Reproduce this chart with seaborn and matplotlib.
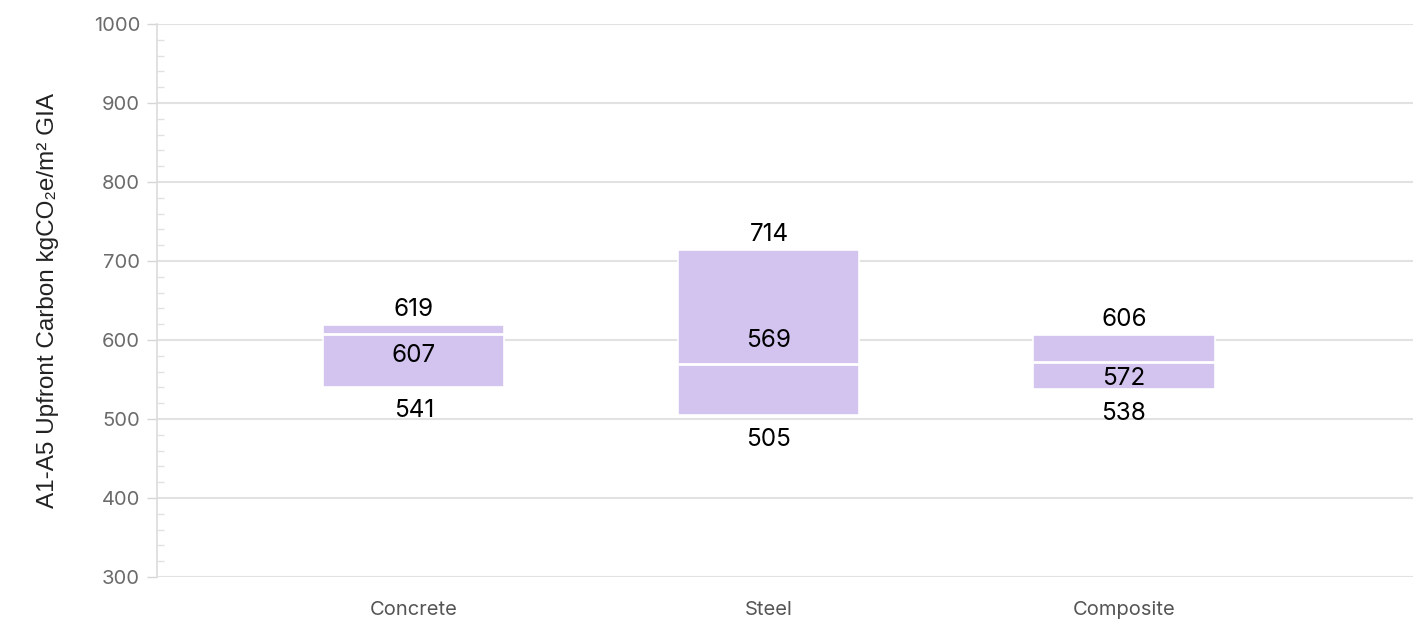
import seaborn as sns
import matplotlib.pyplot as plt
import pandas as pd
from matplotlib.ticker import MultipleLocator

# Valores
sistemas = ['Concrete', 'Steel', 'Composite']
minimos = [541, 505, 538]
medianas = [607, 569, 572]
maximos = [619, 714, 606]

df = pd.DataFrame({'sistema': sistemas, 'min': minimos, 'med': medianas, 'max': maximos})
df['rango'] = df['max'] - df['min']

sns.set_style('white')
plt.rcParams['font.family'] = ['Inter', 'DejaVu Sans']

lila = '#d2c4ee'
fig = plt.figure(figsize=(14.13, 6.21), dpi=100)
ax = fig.add_axes([0.111, 0.071, 0.889, 0.8905])

ancho = 0.51
sns.barplot(x='sistema', y='rango', data=df, bottom=df['min'].to_numpy(), color=lila,
            width=ancho, edgecolor='white', linewidth=1.2, saturation=1, ax=ax, zorder=3)

# linea de la mediana
for i, m in enumerate(df['med']):
    ax.hlines(m, i - ancho / 2, i + ancho / 2, color='white', lw=2, zorder=4)

# etiquetas (desplazamiento en puntos para que no se encimen)
desp_med = [-15.5, 17, -11.5]
for i, r in df.iterrows():
    ax.annotate(str(r['max']), (i, r['max']), xytext=(0, 11), textcoords='offset points',
                ha='center', va='center', fontsize=17.5, color='black', zorder=5)
    ax.annotate(str(r['med']), (i, r['med']), xytext=(0, desp_med[i]), textcoords='offset points',
                ha='center', va='center', fontsize=17.5, color='black', zorder=5)
    ax.annotate(str(r['min']), (i, r['min']), xytext=(0, -17.5), textcoords='offset points',
                ha='center', va='center', fontsize=17.5, color='black', zorder=5)

ax.set_ylim(300, 1000)
ax.set_xlim(-0.724, 2.814)
ax.yaxis.set_major_locator(MultipleLocator(100))
ax.yaxis.set_minor_locator(MultipleLocator(20))
ax.grid(axis='y', which='major', color='#e2e2e2', lw=1.5, zorder=0)
ax.tick_params(axis='y', which='major', length=7, width=1, color='#d6d6d6', labelsize=14.5,
               labelcolor='#6b6b6b', pad=5, left=True)
ax.tick_params(axis='y', which='minor', length=5, width=1, color='#e2e2e2', direction='in', left=True)
ax.tick_params(axis='x', length=0, labelsize=14.5, labelcolor='#555555', pad=17)

for s in ['top', 'right', 'bottom']:
    ax.spines[s].set_visible(False)
ax.spines['left'].set_color('#dcdcdc')
ax.spines['left'].set_linewidth(1.2)

ax.set_xlabel('')
ax.set_ylabel('A1-A5 Upfront Carbon kgCO₂e/m² GIA', fontsize=17.5, color='#222222',
              fontfamily=['Liberation Sans', 'DejaVu Sans'], labelpad=25)

plt.savefig('out.png', dpi=100)
